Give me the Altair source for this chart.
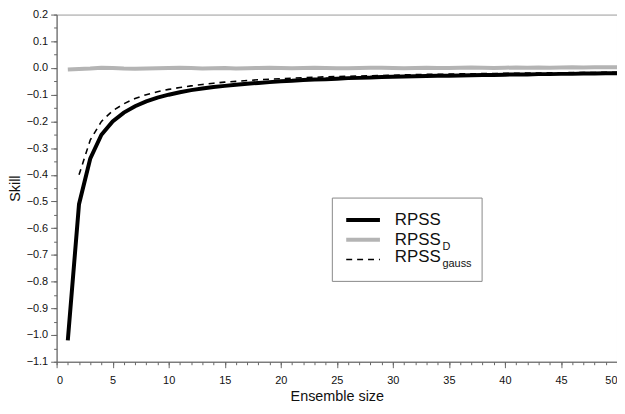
import altair as alt
import pandas as pd

FONT = "Liberation Sans"

ensemble = list(range(1, 51))
rpss = [-1.02, -0.51, -0.34, -0.25, -0.20, -0.167, -0.143, -0.125, -0.111, -0.100,
        -0.091, -0.083, -0.077, -0.071, -0.067, -0.063, -0.059, -0.056, -0.053, -0.050,
        -0.048, -0.045, -0.043, -0.042, -0.040, -0.038, -0.037, -0.036, -0.034, -0.033,
        -0.032, -0.031, -0.030, -0.029, -0.029, -0.028, -0.027, -0.026, -0.026, -0.025,
        -0.024, -0.024, -0.023, -0.023, -0.022, -0.022, -0.021, -0.021, -0.020, -0.020]
rpss_d = [-0.006, -0.004, -0.002, 0.001, 0.000, -0.002, -0.003, -0.002, -0.001, 0.000,
          0.001, 0.000, -0.002, -0.001, 0.000, -0.002, -0.001, 0.000, 0.001, 0.000,
          -0.001, 0.000, 0.001, 0.000, -0.001, -0.001, 0.000, 0.001, 0.001, 0.000,
          -0.001, 0.000, 0.001, 0.000, 0.000, 0.001, 0.002, 0.001, 0.000, 0.001,
          0.002, 0.001, 0.002, 0.001, 0.002, 0.003, 0.002, 0.003, 0.003, 0.003]
gauss_size = list(range(2, 51))
rpss_gauss = [-0.40, -0.27, -0.20, -0.16, -0.134, -0.114, -0.100, -0.089, -0.080,
              -0.073, -0.067, -0.062, -0.057, -0.053, -0.050, -0.047, -0.044, -0.042, -0.040,
              -0.038, -0.036, -0.035, -0.033, -0.032, -0.031, -0.030, -0.029, -0.028, -0.027,
              -0.026, -0.025, -0.024, -0.024, -0.023, -0.022, -0.022, -0.021, -0.021, -0.020,
              -0.020, -0.019, -0.019, -0.018, -0.018, -0.017, -0.017, -0.017, -0.016, -0.016]

legend_main = ["RPSS", "RPSS", "RPSS"]
legend_sub = ["", "D", "gauss"]

x_major = list(range(0, 51, 5))
x_minor = list(range(0, 51, 1))
y_major = [round(-1.1 + 0.1 * i, 2) for i in range(14)]
y_minor = [round(-1.1 + 0.05 * i, 3) for i in range(27)]

df_main = pd.DataFrame({"M": ensemble, "rpss": rpss, "rpss_d": rpss_d})
df_gauss = pd.DataFrame({"M": gauss_size, "g": rpss_gauss})

xscale = alt.Scale(domain=[0, 50], nice=False, zero=False)
yscale = alt.Scale(domain=[-1.1, 0.2], nice=False, zero=False)

axis_common = dict(labelFont=FONT, titleFont=FONT, labelColor="#111", titleColor="#111",
                   domainColor="#666", tickColor="#666", grid=False, titleFontWeight="normal")

x_axis = alt.Axis(values=x_major, tickSize=6, labelFontSize=11, labelPadding=7,
                  title="Ensemble size", titleFontSize=14.5, titlePadding=4, orient="bottom",
                  format="d", **axis_common)
y_axis = alt.Axis(values=y_major, tickSize=6, labelFontSize=11, labelPadding=3,
                  labelExpr="replace(format(datum.value, '.1f'), '-', '\u2212')",
                  title="Skill", titleFontSize=14.5, titlePadding=4, orient="left",
                  **axis_common)

x_axis_minor = alt.Axis(values=x_minor, tickSize=3, labels=False, domain=False, title=None,
                        orient="bottom", grid=False, tickColor="#666")
y_axis_minor = alt.Axis(values=y_minor, tickSize=3, labels=False, domain=False, title=None,
                        orient="left", grid=False, tickColor="#666")

base = alt.Chart(df_main)

line_d = base.mark_line(color="#b4b4b4", strokeWidth=4).encode(
    x=alt.X("M:Q", scale=xscale, axis=x_axis),
    y=alt.Y("rpss_d:Q", scale=yscale, axis=y_axis),
)
minor = base.mark_line(opacity=0).encode(
    x=alt.X("M:Q", scale=xscale, axis=x_axis_minor),
    y=alt.Y("rpss:Q", scale=yscale, axis=y_axis_minor),
)
line_rpss = base.mark_line(color="black", strokeWidth=4).encode(
    x=alt.X("M:Q", scale=xscale, axis=None),
    y=alt.Y("rpss:Q", scale=yscale, axis=None),
)
line_gauss = alt.Chart(df_gauss).mark_line(color="black", strokeWidth=1.6, strokeDash=[6, 5]).encode(
    x=alt.X("M:Q", scale=xscale, axis=None),
    y=alt.Y("g:Q", scale=yscale, axis=None),
)

one = pd.DataFrame({"a": [0]})
leg_box = alt.Chart(one).mark_rect(fill="white", stroke="#888", strokeWidth=1).encode(
    x=alt.value(278), x2=alt.value(429), y=alt.value(185), y2=alt.value(269))
leg_l1 = alt.Chart(one).mark_rule(color="black", strokeWidth=4).encode(
    x=alt.value(292), x2=alt.value(326), y=alt.value(207))
leg_l2 = alt.Chart(one).mark_rule(color="#b4b4b4", strokeWidth=4).encode(
    x=alt.value(292), x2=alt.value(326), y=alt.value(227))
leg_l3 = alt.Chart(one).mark_rule(color="black", strokeWidth=1.6, strokeDash=[6, 5]).encode(
    x=alt.value(292), x2=alt.value(326), y=alt.value(247))

leg_texts = []
for i, (mtxt, stxt) in enumerate(zip(legend_main, legend_sub)):
    yc = [207, 227, 244][i]
    leg_texts.append(alt.Chart(one).mark_text(text=mtxt, align="left", baseline="middle",
                                              font=FONT, fontSize=17, color="#111").encode(
        x=alt.value(341), y=alt.value(yc)))
    if stxt:
        leg_texts.append(alt.Chart(one).mark_text(text=stxt, align="left", baseline="middle",
                                                  font=FONT, fontSize=11, color="#111").encode(
            x=alt.value(389), y=alt.value(yc + 7)))

chart = alt.layer(line_d, minor, line_rpss, line_gauss, leg_box, leg_l1, leg_l2, leg_l3,
                  *leg_texts).resolve_axis(x="independent", y="independent").properties(
    width=565, height=350,
    autosize=alt.AutoSizeParams(type="none"),
    padding={"left": 49, "top": 5, "right": 0, "bottom": 43},
).configure_view(stroke="#999", strokeWidth=1)

chart.save("out.html", embed_options={"renderer": "svg", "actions": False})
